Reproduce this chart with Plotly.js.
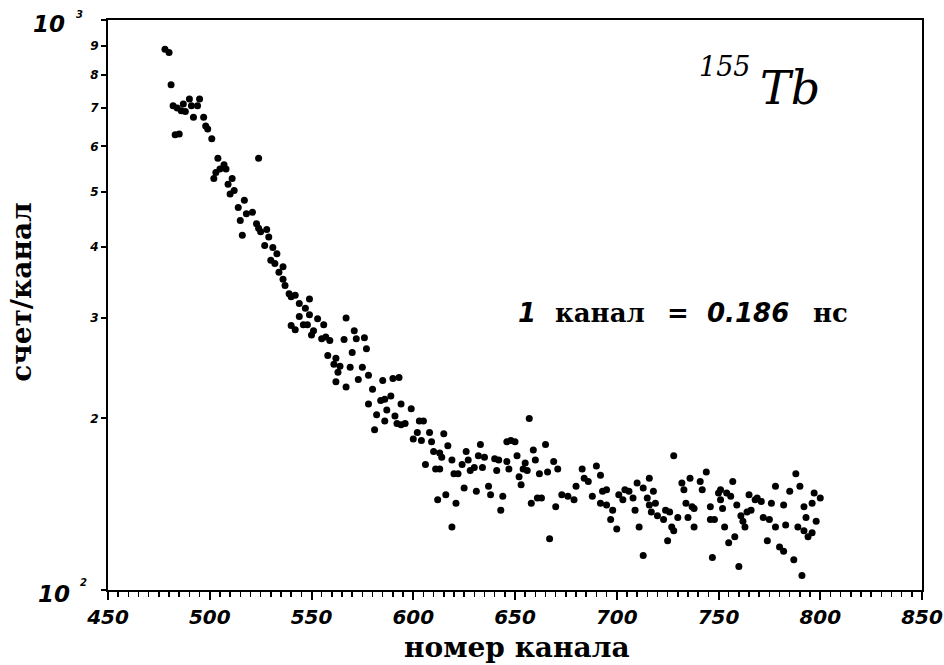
<!DOCTYPE html>
<html>
<head>
<meta charset="utf-8">
<script src="https://cdn.plot.ly/plotly-3.0.1.min.js"></script>
<style>
html,body{margin:0;padding:0;background:#fff;}
#chart{width:944px;height:665px;}
</style>
</head>
<body>
<div id="chart"></div>
<script>
// channel numbers and counts per channel
var channel = [
478,480,481,482,484,487,490,491,495,494,486,488,492,497,498,499,483,485,501,524,
504,507,505,508,503,502,511,509,512,510,517,514,518,521,515,523,524,528,516,529,
527,531,533,530,536,525,532,534,536,537,539,540,542,549,544,547,549,544,553,567,
546,548,556,540,542,551,571,550,555,557,559,566,572,576,570,577,558,562,561,564,
569,575,563,578,573,585,590,593,562,567,580,589,584,586,578,594,587,599,582,591,
586,603,605,592,594,596,581,602,608,600,604,609,615,617,610,613,614,619,626,633,
606,611,613,620,622,624,627,628,630,632,635,634,640,642,646,647,641,646,648,650,
659,665,651,655,660,654,656,662,666,669,671,625,631,637,638,652,653,616,612,621,
644,643,658,661,663,619,667,683,690,692,684,686,680,673,676,679,670,688,693,695,
692,695,698,697,700,701,704,706,703,708,709,710,713,716,715,718,719,717,720,723,
724,711,713,728,744,788,732,736,741,733,742,757,751,754,756,750,778,785,790,797,
800,716,734,737,738,746,751,759,765,768,769,771,776,782,792,796,726,764,766,752,
730,735,761,762,772,775,793,798,727,728,738,746,748,753,763,778,783,789,792,794,
796,725,758,755,774,780,782,747,760,787,791,657
];
var counts = [
889,877,770,707,701,712,727,707,727,707,693,691,675,675,652,644,629,631,619,572,
572,557,548,548,540,527,527,515,502,495,483,469,457,460,445,439,431,429,419,416,
402,399,389,379,369,425,374,361,351,342,331,327,329,324,318,312,304,302,299,300,
292,292,292,291,286,285,285,280,276,278,274,275,276,277,261,265,258,255,249,247,
246,246,241,238,234,233,235,236,232,227,225,219,215,216,212,212,207,208,203,202,
198,198,198,196,195,196,191,189,189,184,183,182,188,179,175,174,171,169,175,180,
166,163,163,160,160,166,169,162,164,172,171,164,170,169,168,163,162,182,183,182,
176,180,172,167,169,163,162,160,161,168,163,151,149,152,147,158,153,147,144,142,
146,138,142,145,145,129,123,163,165,159,157,155,152,147,146,144,140,146,149,150,
142,141,138,133,128,147,150,149,144,145,138,154,151,157,145,149,142,137,135,133,
138,129,115,172,161,160,154,157,155,150,150,155,150,148,146,148,152,149,152,148,
145,141,142,140,139,140,144,141,147,144,145,143,142,141,140,142,137,137,138,139,
134,134,135,132,134,133,134,132,129,127,129,133,133,129,129,129,130,129,127,124,
126,122,124,121,122,119,117,114,110,113,106,200
];

var xTickVals = [450,500,550,600,650,700,750,800,850];
var yTickVals = [100,200,300,400,500,600,700,800,900,1000];
var yTickText = ['','2','3','4','5','6','7','8','9',''];

var numFont = {family:'DejaVu Sans', weight:'bold', style:'italic', color:'#000'};
var serif = 'DejaVu Serif';
var serifBold = {family:serif, size:26, weight:'bold', color:'#000'};

var trace = {
  x: channel, y: counts, type:'scatter', mode:'markers',
  marker:{size:7, color:'#000', line:{width:0}},
  hoverinfo:'x+y', showlegend:false
};

function note(x, y, text, font, xanchor, extra) {
  var a = {xref:'paper', yref:'paper', x:x, y:y, xanchor:xanchor || 'left', yanchor:'middle',
           showarrow:false, text:text, font:font};
  return Object.assign(a, extra || {});
}

var layout = {
  width:944, height:665,
  margin:{l:108, r:22, t:20, b:75, pad:0},
  paper_bgcolor:'#fff', plot_bgcolor:'#fff',
  showlegend:false,
  xaxis:{
    range:[450,850], tickmode:'array', tickvals:xTickVals,
    ticks:'outside', ticklen:8, tickwidth:2, tickcolor:'#000',
    showline:true, linewidth:2, linecolor:'#000', mirror:true,
    showgrid:false, zeroline:false,
    tickfont:Object.assign({size:20}, numFont),
    minor:{dtick:5, tick0:450, ticks:'outside', ticklen:5, tickwidth:1.5, tickcolor:'#000', showgrid:false}
  },
  yaxis:{
    type:'log', range:[2,3], tickmode:'array', tickvals:yTickVals, ticktext:yTickText,
    ticks:'outside', ticklen:5, tickwidth:2, tickcolor:'#000',
    showline:true, linewidth:2, linecolor:'#000', mirror:true,
    showgrid:false, zeroline:false,
    tickfont:Object.assign({size:12}, numFont)
  },
  annotations:[
    note(-0.0504, 0.993, '10', Object.assign({size:23}, numFont), 'right'),
    note(-0.0344, 1.0105, '3', Object.assign({size:10}, numFont), 'center'),
    note(-0.0442, -0.007, '10', Object.assign({size:23}, numFont), 'right'),
    note(-0.0307, 0.0123, '2', Object.assign({size:10}, numFont), 'center'),
    note(0.5025, -0.1, 'номер канала', {family:serif, size:28, weight:'bold', color:'#000'}, 'center'),
    note(-0.1057, 0.523, 'счет/канал', {family:serif, size:28, weight:'bold', color:'#000'}, 'center', {textangle:-90}),
    note(0.5012, 0.486, '1', Object.assign({size:26}, numFont), 'left'),
    note(0.5467, 0.486, 'канал', serifBold, 'left'),
    note(0.7002, 0.486, '=', {family:'DejaVu Sans', size:26, weight:'bold', color:'#000'}, 'center'),
    note(0.7334, 0.486, '0.186', Object.assign({size:26}, numFont), 'left'),
    note(0.8636, 0.486, 'нс', serifBold, 'left'),
    note(0.7236, 0.919, '155', {family:serif, size:27, style:'italic', color:'#000'}, 'left'),
    note(0.7985, 0.881, 'Tb', {family:serif, size:46, style:'italic', color:'#000'}, 'left')
  ]
};

Plotly.newPlot('chart', [trace], layout, {displayModeBar:false, staticPlot:true});
</script>
</body>
</html>
